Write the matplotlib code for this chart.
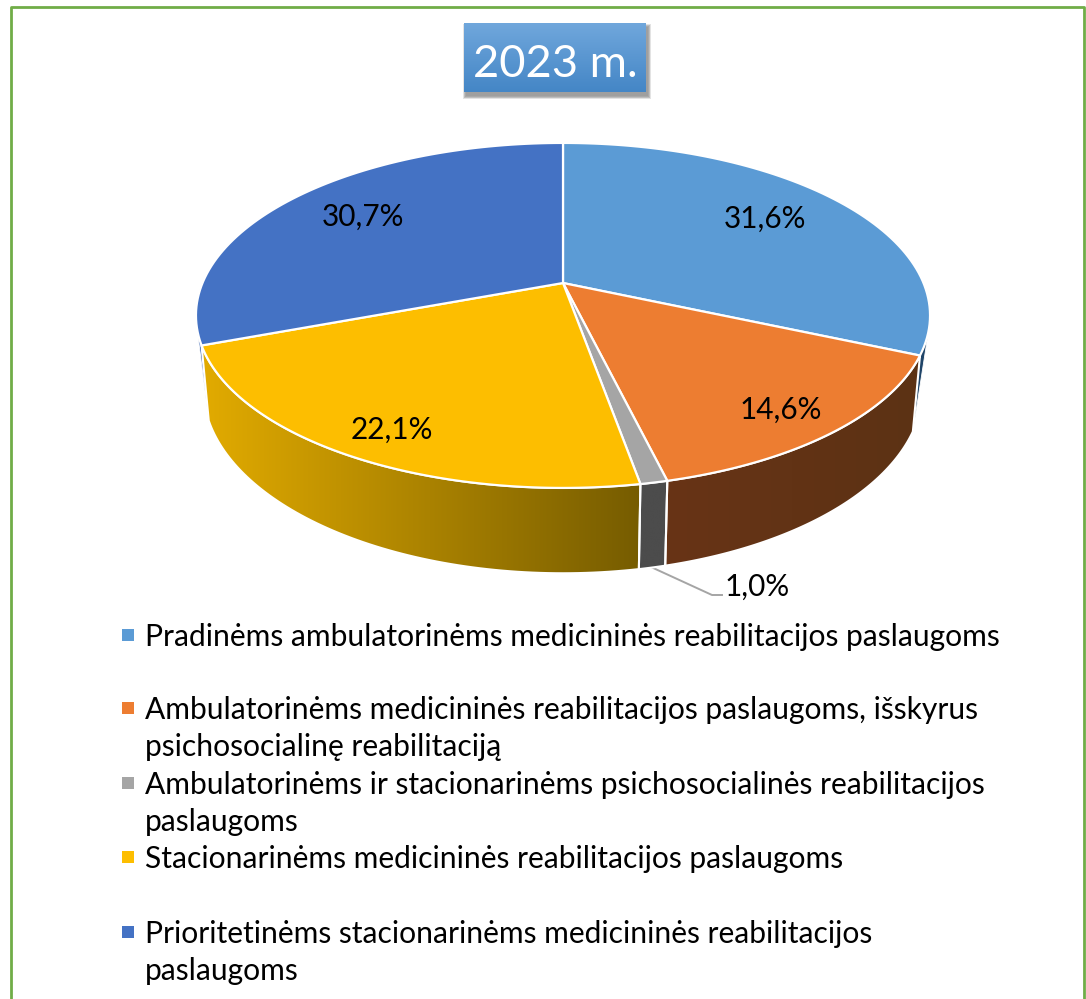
import numpy as np
import matplotlib
matplotlib.use('Agg')
import matplotlib.pyplot as plt
from matplotlib.patches import Polygon, Rectangle

# Data
title = '2023 m.'
values = [31.6, 14.6, 1.0, 22.1, 30.7]
value_labels = ['31,6%', '14,6%', '1,0%', '22,1%', '30,7%']
label_radius = [0.733, 0.851, None, 0.861, 0.737]
label_shift = [-1.4, 1.5, 0, -1.4, 0.9]
categories = [
    'Pradinėms ambulatorinėms medicininės reabilitacijos paslaugoms',
    'Ambulatorinėms medicininės reabilitacijos paslaugoms, išskyrus\npsichosocialinę reabilitaciją',
    'Ambulatorinėms ir stacionarinėms psichosocialinės reabilitacijos\npaslaugoms',
    'Stacionarinėms medicininės reabilitacijos paslaugoms',
    'Prioritetinėms stacionarinėms medicininės reabilitacijos\npaslaugoms',
]
legend_y = [635, 708, 783, 857, 932]
colors = ['#5B9BD5', '#ED7D31', '#A5A5A5', '#FDBE00', '#4472C4']
side_from = [None, (104, 52, 22), (76, 76, 76), (226, 171, 0), None]
side_to = [None, (92, 50, 20), (76, 76, 76), (118, 92, 0), None]

plt.rcParams['font.family'] = ['Lato', 'DejaVu Sans']
W, H = 1086, 999
CX, CY = 563, 283
A, B, C = 360.5, 166.4, 0.188
LOW_SX, LOW_SY, LOW_D = 0.98, 1.07, 71


def project(theta, r=1.0, lower=False):
    # theta in degrees, clockwise from the top of the pie
    t = np.radians(theta)
    x, y = r * np.sin(t), r * np.cos(t)
    px = A * x / (1 + C * y)
    py = -B * y / (1 + C * y)
    if lower:
        px, py = px * LOW_SX, py * LOW_SY + LOW_D
    return CX + px, CY + py


def arc(a, b, lower=False):
    th = np.linspace(a, b, 80)
    return np.column_stack(project(th, lower=lower))


fig = plt.figure(figsize=(W / 100, H / 100), dpi=100)
ax = fig.add_axes([0, 0, 1, 1])

edges = np.concatenate([[0], np.cumsum(values) / sum(values) * 360])

# side walls
for i in range(len(values)):
    if side_from[i] is None:
        continue
    pts = np.vstack([arc(edges[i], edges[i + 1]), arc(edges[i + 1], edges[i], lower=True)])
    x0, x1 = pts[:, 0].min(), pts[:, 0].max()
    y0, y1 = pts[:, 1].min(), pts[:, 1].max()
    # colour runs from the left end of the wall to the right end
    grad = np.linspace(side_from[i], side_to[i], 256)[None, :, :] / 255
    poly = Polygon(pts, closed=True, facecolor='none', edgecolor='white', lw=1.5, zorder=3)
    ax.add_patch(poly)
    im = ax.imshow(grad, extent=[x0, x1, y1, y0], aspect='auto', zorder=2)
    im.set_clip_path(poly)

# thin slivers of the two blue walls beside the front walls
for a, b, tip, col in [(104.0, edges[1], edges[1], '#1F4468'), (edges[4], 254.5, edges[4], '#3A64B0')]:
    pts = np.vstack([arc(a, b), np.array(project(tip, lower=True))[None, :]])
    ax.add_patch(Polygon(pts, closed=True, facecolor=col, edgecolor='white', lw=0.6, zorder=1.5))

# top of the pie
for i, col in enumerate(colors):
    pts = np.vstack([[CX, CY], arc(edges[i], edges[i + 1])])
    ax.add_patch(Polygon(pts, closed=True, facecolor=col, edgecolor='white', lw=1.6,
                         joinstyle='round', zorder=4))

# value labels
for i, lab in enumerate(value_labels):
    if label_radius[i] is None:
        continue
    mid = (edges[i] + edges[i + 1]) / 2 + label_shift[i]
    lx, ly = project(mid, label_radius[i])
    ax.text(lx, ly, lab, fontsize=21.4, color='black', ha='center', va='center', zorder=6)

# leader for the small slice
mid = (edges[2] + edges[3]) / 2
sx, sy = project(mid, lower=True)
ax.plot([sx, 712, 722], [sy, 595, 595], color='#A5A5A5', lw=1.4, zorder=1)
ax.text(757, 587, value_labels[2], fontsize=21.4, color='black', ha='center', va='center', zorder=6)

# title box with soft shadow
bx0, bx1, by0, by1 = 464, 646, 23, 92
for k in range(8, 0, -1):
    ax.add_patch(Rectangle((bx0 + 2 - k * 0.4, by0 + 4 - k * 0.4), bx1 - bx0 + k * 0.8, by1 - by0 + k * 0.8,
                           facecolor='black', edgecolor='none', alpha=0.055, zorder=7))
grad = np.linspace((112, 167, 220), (68, 134, 198), 128)[:, None, :] / 255
ax.imshow(grad, extent=[bx0, bx1, by1, by0], aspect='auto', zorder=8)
ax.text((bx0 + bx1) / 2, (by0 + by1) / 2 + 7, title, fontsize=32.6, color='white',
        ha='center', va='center', zorder=9)

# legend
for col, cat, y in zip(colors, categories, legend_y):
    ax.add_patch(Rectangle((122, y - 6), 12, 12, facecolor=col, edgecolor='none', zorder=5))
    ax.text(145, y - 12, cat, fontsize=21.6, color='black', ha='left', va='top',
            linespacing=1.37, zorder=6)

# green frame, open at the bottom
ax.plot([11, 11, 1084, 1084], [H + 5, 7, 7, H + 5], color='#70AD47', lw=2, zorder=10)

ax.set_xlim(0, W)
ax.set_ylim(H, 0)
ax.axis('off')
fig.savefig('out.png', dpi=100)
